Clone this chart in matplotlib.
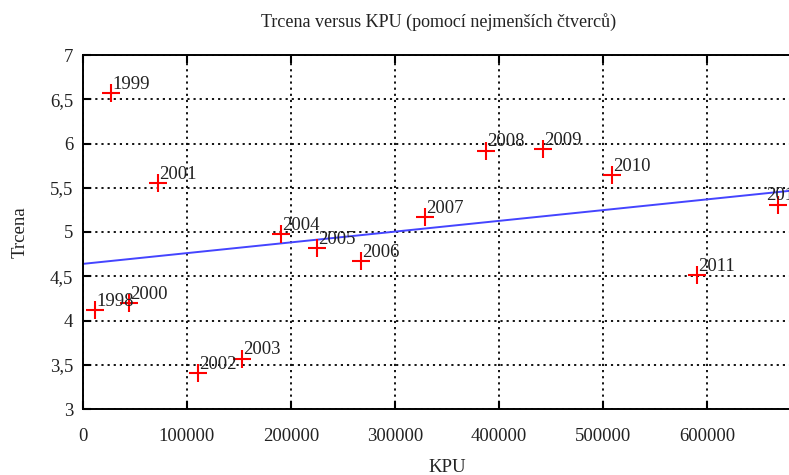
"""Trcena vs KPU scatter with least-squares line, gnuplot-like look."""
import matplotlib

matplotlib.use("Agg")
import matplotlib.pyplot as plt

YEARS = ["1998", "1999", "2000", "2001", "2002", "2003", "2004", "2005",
         "2006", "2007", "2008", "2009", "2010", "2011", "2012"]
KPU = [11500, 27000, 44000, 72000, 110500, 153000, 190000, 225000,
       267000, 329000, 387500, 442000, 508500, 590000, 668000]
TRCENA = [4.12, 6.57, 4.20, 5.55, 3.41, 3.57, 4.98, 4.82,
          4.67, 5.17, 5.92, 5.94, 5.64, 4.51, 5.31]

# least-squares line (endpoints)
FIT_KPU = [0, 700000]
FIT_TRCENA = [4.64, 5.49]

X_TICKS = [0, 100000, 200000, 300000, 400000, 500000, 600000, 700000]
X_LABELS = ["0", "100000", "200000", "300000", "400000", "500000", "600000", ""]
Y_TICKS = [3, 3.5, 4, 4.5, 5, 5.5, 6, 6.5, 7]
Y_LABELS = ["3", "3,5", "4", "4,5", "5", "5,5", "6", "6,5", "7"]

plt.rcParams["font.family"] = ["Liberation Serif", "DejaVu Serif"]
TXT = "#222222"
FS = 13.5

fig = plt.figure(figsize=(7.89, 4.75), dpi=100)
# axes run past the right edge, like the cropped original
ax = fig.add_axes([83 / 789, 66 / 475, 728 / 789, 354 / 475])

ax.plot(FIT_KPU, FIT_TRCENA, color="#4444ff", lw=1.4, zorder=2)
ax.scatter(KPU, TRCENA, marker="+", s=170, color="#ff0000", linewidths=1.5, zorder=3)
for yr, x, y in zip(YEARS, KPU, TRCENA):
    # last label sits a bit left of its point in the original
    dx = -8 if yr == "2012" else 1
    ax.annotate(yr, (x, y), xytext=(dx, 3), textcoords="offset points",
                ha="left", va="baseline", fontsize=FS, color=TXT, zorder=4)

ax.set_xlim(0, 700000)
ax.set_ylim(3, 7)
ax.set_xticks(X_TICKS)
ax.set_xticklabels(X_LABELS)
ax.set_yticks(Y_TICKS)
ax.set_yticklabels(Y_LABELS)
ax.tick_params(direction="in", length=6, width=1.5, labelsize=FS, colors="black",
               labelcolor=TXT, top=True, right=True)
ax.tick_params(axis="x", pad=14)
ax.tick_params(axis="y", pad=7)
ax.grid(True, color="black", lw=1.3, linestyle=(0, (1.2, 2.2)))
for sp in ax.spines.values():
    sp.set_linewidth(1.4)

ax.set_xlabel("KPU", fontsize=FS, color=TXT, labelpad=10)
ax.set_ylabel("Trcena", fontsize=FS, color=TXT, labelpad=15)
fig.text(439 / 789, 1 - 22 / 475, "Trcena versus KPU (pomocí nejmenších čtverců)",
         ha="center", va="center", fontsize=13, color=TXT)

fig.savefig("out.png", dpi=100)
